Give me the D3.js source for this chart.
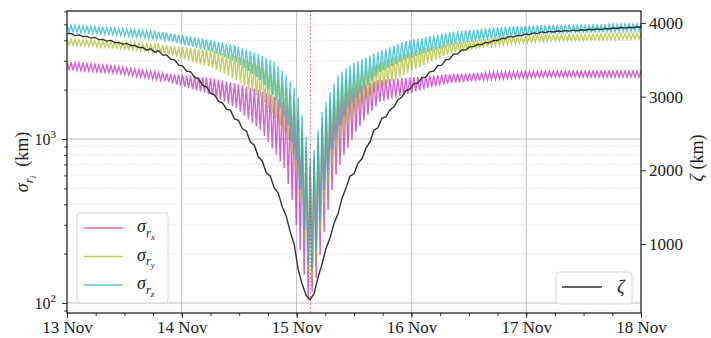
<!DOCTYPE html>
<html>
<head>
<meta charset="utf-8">
<script src="https://cdn.jsdelivr.net/npm/d3@7"></script>
<style>
  body { margin: 0; background: #fff; }
  svg text { font-family: "Liberation Serif", "DejaVu Serif", serif; }
</style>
</head>
<body>
<div id="chart"></div>
<script>
// time grid: one peak and one trough per oscillation, 144 oscillations over 5 days
var startDay = Date.UTC(2023, 10, 13);
var dayMs = 864e5;
var oscPeriod = 5 / 144; // days
var eventTime = Date.UTC(2023, 10, 15, 2, 54);

var dayLabels = ["13 Nov", "14 Nov", "15 Nov", "16 Nov", "17 Nov", "18 Nov"];
var leftMajor = [100, 1000];
var leftMinor = [90, 200, 300, 400, 500, 600, 700, 800, 900, 2000, 3000, 4000, 5000, 6000];
var rightTicks = [1000, 2000, 3000, 4000];

// sigma_rx (km) - peaks at k*P, troughs at (k+0.5)*P
var rxPeaks = [2947, 2933, 2920, 2906, 2892, 2879, 2865, 2852, 2839, 2825, 2812, 2799, 2786,
  2763, 2741, 2718, 2696, 2674, 2652, 2631, 2609, 2588, 2567, 2546, 2525,
  2510, 2496, 2481, 2467, 2452, 2438, 2424, 2410, 2396, 2382, 2368, 2354,
  2327, 2300, 2273, 2247, 2220, 2194, 2159, 2124, 2089, 2055, 2022, 1990,
  1942, 1894, 1848, 1803, 1737, 1673, 1612,
  1534, 1460, 1306, 1103, 857, 647, 745, 919, 1134, 1306, 1502, 1612, 1729, 1829, 1935, 1990, 2047,
  2086, 2125, 2165, 2206, 2247, 2289, 2300, 2310, 2321, 2332, 2343, 2354,
  2365, 2376, 2387, 2398, 2410, 2421, 2432, 2444, 2455, 2467, 2478, 2490,
  2496, 2502, 2507, 2513, 2519, 2525, 2531, 2537, 2543, 2549, 2555, 2561,
  2564, 2567, 2570, 2573, 2576, 2579, 2582, 2585, 2588, 2591, 2594, 2597,
  2597, 2598, 2596, 2599, 2597, 2600, 2598, 2596, 2599, 2597, 2598, 2600,
  2597, 2596, 2599, 2598, 2597, 2600, 2598, 2596, 2599, 2597, 2598, 2597];
var rxTroughs = [2634, 2625, 2616, 2606, 2597, 2588, 2579, 2570, 2561, 2552, 2543, 2534, 2525,
  2501, 2478, 2455, 2432, 2409, 2387, 2365, 2343, 2321, 2299, 2278, 2257,
  2220, 2184, 2149, 2114, 2080, 2046, 2013, 1980, 1948, 1916, 1885, 1855,
  1799, 1745, 1693, 1642, 1593, 1545, 1466, 1391, 1320, 1252,
  1191, 1134, 1042, 959, 875, 799, 729, 665, 531, 425, 299, 210, 148, 104, 117, 142, 196, 271,
  369, 489, 603, 694, 799, 881, 986, 1103,
  1195, 1293, 1400, 1487, 1583, 1681, 1709, 1737, 1766, 1795, 1825, 1855,
  1886, 1917, 1949, 1981, 2014, 2047, 2071, 2096, 2120, 2145, 2171, 2196,
  2206, 2217, 2227, 2237, 2248, 2258, 2269, 2280, 2290, 2301, 2312, 2322,
  2327, 2333, 2338, 2344, 2349, 2355, 2360, 2366, 2371, 2377, 2382, 2387,
  2387, 2389, 2386, 2388, 2387, 2390, 2386, 2388, 2387, 2389, 2386, 2388,
  2387, 2390, 2386, 2388, 2387, 2389, 2386, 2388, 2387, 2389, 2387];

// sigma_ry (km)
var ryPeaks = [4075, 4061, 4047, 4033, 4018, 4004, 3990, 3976, 3962, 3948, 3934, 3920, 3907,
  3893, 3879, 3866, 3852, 3839, 3825, 3812, 3799, 3785, 3772, 3759, 3741,
  3719, 3697, 3676, 3654, 3633, 3612, 3591, 3570, 3549, 3528, 3508, 3488,
  3439, 3391, 3344, 3298, 3252, 3207, 3140, 3075, 3011, 2948, 2886, 2825,
  2728, 2634, 2543, 2455, 2310, 2174, 2047,
  1881, 1729, 1502, 1217, 919, 694, 799, 1058, 1343, 1523, 1729, 1881, 2047, 2163, 2289, 2370, 2455,
  2525, 2597, 2671, 2747, 2825, 2906, 2961, 3017, 3074, 3132, 3191, 3252,
  3306, 3360, 3416, 3472, 3529, 3587, 3629, 3672, 3715, 3759, 3803, 3848,
  3871, 3893, 3916, 3939, 3962, 3985, 4009, 4032, 4056, 4080, 4104, 4132,
  4147, 4161, 4176, 4190, 4205, 4220, 4235, 4249, 4264, 4279, 4294, 4305,
  4310, 4315, 4320, 4325, 4330, 4335, 4340, 4345, 4350, 4355, 4360, 4366,
  4371, 4376, 4381, 4386, 4391, 4396, 4401, 4407, 4412, 4417, 4422, 4427];
var ryTroughs = [3741, 3728, 3715, 3702, 3689, 3676, 3663, 3650, 3638, 3625, 3612, 3600, 3587,
  3566, 3545, 3525, 3504, 3484, 3464, 3443, 3423, 3403, 3384, 3364, 3344,
  3286, 3229, 3172, 3117, 3063, 3010, 2957, 2906, 2855, 2806, 2757, 2709,
  2634, 2561, 2490, 2421, 2354, 2289, 2195, 2104, 2017, 1934, 1855, 1778,
  1658, 1545, 1441, 1343, 1212, 1094, 986,
  799, 647, 425, 242, 155, 138, 178, 271, 396, 524, 694, 828, 986, 1095, 1217, 1334, 1460,
  1544, 1633, 1728, 1827, 1933, 2047, 2110, 2175, 2243, 2312, 2384, 2455,
  2525, 2597, 2671, 2747, 2825, 2906, 2975, 3045, 3117, 3191, 3267, 3344,
  3375, 3407, 3439, 3471, 3504, 3537, 3570, 3604, 3638, 3672, 3706, 3741,
  3759, 3776, 3794, 3812, 3830, 3848, 3866, 3884, 3902, 3920, 3938, 3962,
  3967, 3972, 3977, 3981, 3986, 3991, 3996, 4001, 4006, 4011, 4016, 4020,
  4025, 4030, 4035, 4040, 4045, 4050, 4055, 4060, 4065, 4070, 4075];

// sigma_rz (km)
var rzPeaks = [4955, 4940, 4920, 4905, 4886, 4870, 4852, 4835, 4818, 4800, 4784, 4768, 4751,
  4729, 4707, 4685, 4663, 4641, 4620, 4598, 4577, 4556, 4535, 4514, 4491,
  4449, 4408, 4367, 4326, 4286, 4246, 4206, 4167, 4128, 4090, 4052, 4018,
  3971, 3925, 3879, 3834, 3789, 3741, 3663, 3587, 3512, 3439, 3367, 3297,
  3206, 3117, 3031, 2947, 2773, 2610, 2455,
  2241, 2047, 1778, 1400, 1028, 766, 857, 1134, 1460, 1681, 1935, 2179, 2455, 2579, 2709, 2805, 2905,
  2982, 3060, 3139, 3222, 3306, 3391, 3472, 3554, 3637, 3724, 3812, 3907,
  3952, 4000, 4047, 4095, 4144, 4194, 4241, 4291, 4335, 4386, 4438, 4491,
  4517, 4544, 4570, 4597, 4624, 4651, 4678, 4706, 4733, 4761, 4789, 4818,
  4829, 4840, 4852, 4863, 4874, 4886, 4897, 4909, 4920, 4932, 4943, 4955,
  4958, 4961, 4964, 4967, 4970, 4973, 4975, 4978, 4981, 4984, 4987, 4990,
  4993, 4996, 4999, 5002, 5005, 5008, 5011, 5013, 5016, 5019, 5022, 5025];
var rzTroughs = [4491, 4475, 4459, 4444, 4428, 4413, 4397, 4382, 4366, 4351, 4336, 4321, 4305,
  4280, 4255, 4230, 4206, 4181, 4157, 4133, 4109, 4085, 4061, 4037, 4018,
  3962, 3907, 3852, 3799, 3746, 3694, 3642, 3591, 3541, 3492, 3443, 3391,
  3313, 3236, 3161, 3088, 3017, 2947, 2826, 2709, 2598, 2491, 2388, 2289,
  2134, 1990, 1855, 1729, 1538, 1369, 1217,
  952, 745, 489, 279, 178, 159, 210, 321, 489, 647, 857, 1021, 1217, 1370, 1545, 1658, 1778,
  1890, 2009, 2133, 2268, 2410, 2561, 2634, 2709, 2786, 2865, 2947, 3031,
  3088, 3147, 3206, 3267, 3328, 3391, 3447, 3504, 3561, 3620, 3680, 3741,
  3772, 3803, 3834, 3866, 3898, 3930, 3962, 3994, 4027, 4060, 4093, 4126,
  4145, 4165, 4184, 4204, 4224, 4243, 4263, 4283, 4303, 4324, 4344, 4366,
  4374, 4382, 4390, 4398, 4406, 4414, 4422, 4430, 4438, 4446, 4455, 4463,
  4471, 4479, 4488, 4496, 4504, 4512, 4521, 4529, 4537, 4546, 4554];

// zeta (km), one value per oscillation step
var zeta = [3855, 3858, 3828, 3838, 3815, 3817, 3794, 3804, 3774, 3777, 3754, 3763, 3733, 3736, 3713, 3722, 3693, 3695, 3665, 3668,
  3631, 3648, 3604, 3621, 3563, 3566, 3509, 3498, 3428, 3417, 3346, 3336, 3265, 3241, 3156, 3132, 3048, 3024, 2939, 2915, 2831,
  2816, 2698, 2680, 2563, 2531, 2386, 2341, 2183, 2124, 1966, 1921, 1762, 1690, 1504, 1378, 1165, 998, 649,
  457, 300, 245, 330, 552,
  731, 944, 1084, 1283, 1409, 1622, 1762, 1921, 1952, 2097, 2156, 2301, 2386, 2545, 2577, 2708, 2726,
  2820, 2858, 2956, 2994, 3078, 3102, 3173, 3183, 3254, 3265, 3336, 3346, 3417, 3428, 3498, 3509, 3580, 3577, 3634, 3631,
  3675, 3679, 3709, 3706, 3736, 3733, 3763, 3761, 3790, 3788, 3817, 3808, 3831, 3828, 3851, 3842, 3865, 3855, 3878, 3869,
  3885, 3878, 3891, 3884, 3896, 3889, 3902, 3895, 3908, 3901, 3914, 3907, 3919, 3912, 3925, 3918, 3931, 3924, 3937, 3930, 3942, 3935, 3948, 3941];

var W = 711, H = 338;
var plotL = 67, plotR = 641, plotT = 11, plotB = 313;

var svg = d3.select("#chart").append("svg")
  .attr("width", W)
  .attr("height", H);

var x = d3.scaleUtc()
  .domain([new Date(startDay), new Date(startDay + 5 * dayMs)])
  .range([plotL, plotR]);
var yL = d3.scaleLog().domain([86.9, 6034]).range([plotB, plotT]);
var yR = d3.scaleLinear().domain([64, 4162]).range([plotB, plotT]);

function timeAt(k) { return new Date(startDay + k * oscPeriod * dayMs); }

function zigzag(peaks, troughs) {
  var pts = [];
  for (var k = 0; k < peaks.length; k++) {
    pts.push([timeAt(k), peaks[k]]);
    if (k < troughs.length) pts.push([timeAt(k + 0.5), troughs[k]]);
  }
  return pts;
}

svg.append("clipPath").attr("id", "plot")
  .append("rect").attr("x", plotL).attr("y", plotT)
  .attr("width", plotR - plotL).attr("height", plotB - plotT);

// grid
var grid = svg.append("g");
grid.selectAll(".minor").data(leftMinor).enter().append("line")
  .attr("x1", plotL).attr("x2", plotR)
  .attr("y1", function (d) { return yL(d); })
  .attr("y2", function (d) { return yL(d); })
  .attr("stroke", "#cfcfcf").attr("stroke-width", 0.8)
  .attr("stroke-dasharray", "1,2");
grid.selectAll(".major").data(leftMajor).enter().append("line")
  .attr("x1", plotL).attr("x2", plotR)
  .attr("y1", function (d) { return yL(d); })
  .attr("y2", function (d) { return yL(d); })
  .attr("stroke", "#b0b0b0").attr("stroke-width", 0.8);
var dayDates = dayLabels.map(function (d, i) { return new Date(startDay + i * dayMs); });
grid.selectAll(".vday").data(dayDates.slice(1, 5)).enter().append("line")
  .attr("x1", function (d) { return x(d); })
  .attr("x2", function (d) { return x(d); })
  .attr("y1", plotT).attr("y2", plotB)
  .attr("stroke", "#b0b0b0").attr("stroke-width", 0.8);

// sigma series
var sigmaLine = d3.line()
  .x(function (d) { return x(d[0]); })
  .y(function (d) { return yL(d[1]); });

var series = [
  { name: "x", peaks: rxPeaks, troughs: rxTroughs, color: "#c61fbd" },
  { name: "y", peaks: ryPeaks, troughs: ryTroughs, color: "#a9bc1e" },
  { name: "z", peaks: rzPeaks, troughs: rzTroughs, color: "#17b2c6" }
];

var plot = svg.append("g").attr("clip-path", "url(#plot)");
series.forEach(function (s) {
  plot.append("path")
    .datum(zigzag(s.peaks, s.troughs))
    .attr("d", sigmaLine)
    .attr("fill", "none")
    .attr("stroke", s.color)
    .attr("stroke-opacity", 0.7)
    .attr("stroke-width", 1.4);
});

// zeta on the right axis
var zetaLine = d3.line()
  .x(function (d, i) { return x(timeAt(i)); })
  .y(function (d) { return yR(d); });
plot.append("path")
  .datum(zeta)
  .attr("d", zetaLine)
  .attr("fill", "none")
  .attr("stroke", "#333")
  .attr("stroke-width", 1.4);

// closest approach marker
svg.append("line")
  .attr("x1", x(new Date(eventTime))).attr("x2", x(new Date(eventTime)))
  .attr("y1", plotT).attr("y2", plotB)
  .attr("stroke", "#e8383d").attr("stroke-width", 1.2)
  .attr("stroke-dasharray", "1.2,2.6");

// axes
function styleAxis(g, size) {
  g.attr("font-family", null).attr("font-size", null);
  g.selectAll(".tick line").attr("stroke", "#000").attr("stroke-width", 0.8);
  g.selectAll(".tick text").attr("font-size", size).attr("fill", "#222");
  g.select(".domain").remove();
}

var xAxis = svg.append("g")
  .attr("transform", "translate(0," + plotB + ")")
  .call(d3.axisBottom(x).tickValues(dayDates)
    .tickFormat(function (d, i) { return dayLabels[i]; })
    .tickSize(5).tickPadding(3));
styleAxis(xAxis, 17);

var minorHours = d3.utcHour.every(6).range(dayDates[0], dayDates[5]);
var xMinor = svg.append("g")
  .attr("transform", "translate(0," + plotB + ")")
  .call(d3.axisBottom(x).tickValues(minorHours).tickFormat("").tickSize(3));
styleAxis(xMinor, 1);

var yAxis = svg.append("g")
  .attr("transform", "translate(" + plotL + ",0)")
  .call(d3.axisLeft(yL).tickValues(leftMajor).tickFormat("").tickSize(5).tickPadding(6));
styleAxis(yAxis, 16);
yAxis.selectAll(".tick text").each(function (d) {
  var t = d3.select(this);
  t.text("10");
  t.append("tspan").attr("dy", -7).attr("font-size", 11)
    .text(Math.round(Math.log10(d)));
});

var yMinor = svg.append("g")
  .attr("transform", "translate(" + plotL + ",0)")
  .call(d3.axisLeft(yL).tickValues(leftMinor).tickFormat("").tickSize(3));
styleAxis(yMinor, 1);

var rAxis = svg.append("g")
  .attr("transform", "translate(" + plotR + ",0)")
  .call(d3.axisRight(yR).tickValues(rightTicks).tickFormat(d3.format("d"))
    .tickSize(5).tickPadding(3));
styleAxis(rAxis, 17);

// frame
svg.append("rect")
  .attr("x", plotL).attr("y", plotT)
  .attr("width", plotR - plotL).attr("height", plotB - plotT)
  .attr("fill", "none").attr("stroke", "#000").attr("stroke-width", 1.1);

// axis labels
function sigmaText(sel, sub, size) {
  sel.append("tspan").attr("font-style", "italic").attr("font-size", size).text("σ");
  sel.append("tspan").attr("font-style", "italic").attr("font-size", size * 0.7)
    .attr("dy", size * 0.25).text("r");
  sel.append("tspan").attr("font-style", "italic").attr("font-size", size * 0.5)
    .attr("dy", size * 0.18).text(sub);
}

var yLabel = svg.append("text")
  .attr("transform", "translate(28,162) rotate(-90)")
  .attr("text-anchor", "middle")
  .attr("fill", "#222");
sigmaText(yLabel, "i", 18);
yLabel.append("tspan").attr("dy", -18 * 0.43).attr("font-size", 18).text("\u2002(km)");

var rLabel = svg.append("text")
  .attr("transform", "translate(703,158) rotate(-90)")
  .attr("text-anchor", "middle")
  .attr("font-size", 18)
  .attr("fill", "#222");
rLabel.append("tspan").attr("font-style", "italic").text("ζ");
rLabel.append("tspan").text(" (km)");

// legends
var leg = svg.append("g");
leg.append("rect")
  .attr("x", 77).attr("y", 213).attr("width", 91).attr("height", 90).attr("rx", 3)
  .attr("fill", "#fff").attr("fill-opacity", 0.8)
  .attr("stroke", "#d6d6d6").attr("stroke-width", 1);
series.forEach(function (s, i) {
  var ly = 228 + i * 28.5;
  leg.append("line")
    .attr("x1", 84).attr("x2", 123).attr("y1", ly).attr("y2", ly)
    .attr("stroke", s.color).attr("stroke-opacity", 0.7).attr("stroke-width", 1.5);
  var t = leg.append("text").attr("x", 137).attr("y", ly + 4).attr("fill", "#222");
  sigmaText(t, s.name, 18);
});

var zleg = svg.append("g");
zleg.append("rect")
  .attr("x", 556).attr("y", 272).attr("width", 76).attr("height", 32).attr("rx", 3)
  .attr("fill", "#fff").attr("fill-opacity", 0.8)
  .attr("stroke", "#d6d6d6").attr("stroke-width", 1);
zleg.append("line")
  .attr("x1", 562).attr("x2", 602).attr("y1", 287).attr("y2", 287)
  .attr("stroke", "#333").attr("stroke-width", 1.5);
zleg.append("text")
  .attr("x", 617).attr("y", 293)
  .attr("font-size", 19).attr("font-style", "italic").attr("fill", "#222")
  .text("ζ");
</script>
</body>
</html>
